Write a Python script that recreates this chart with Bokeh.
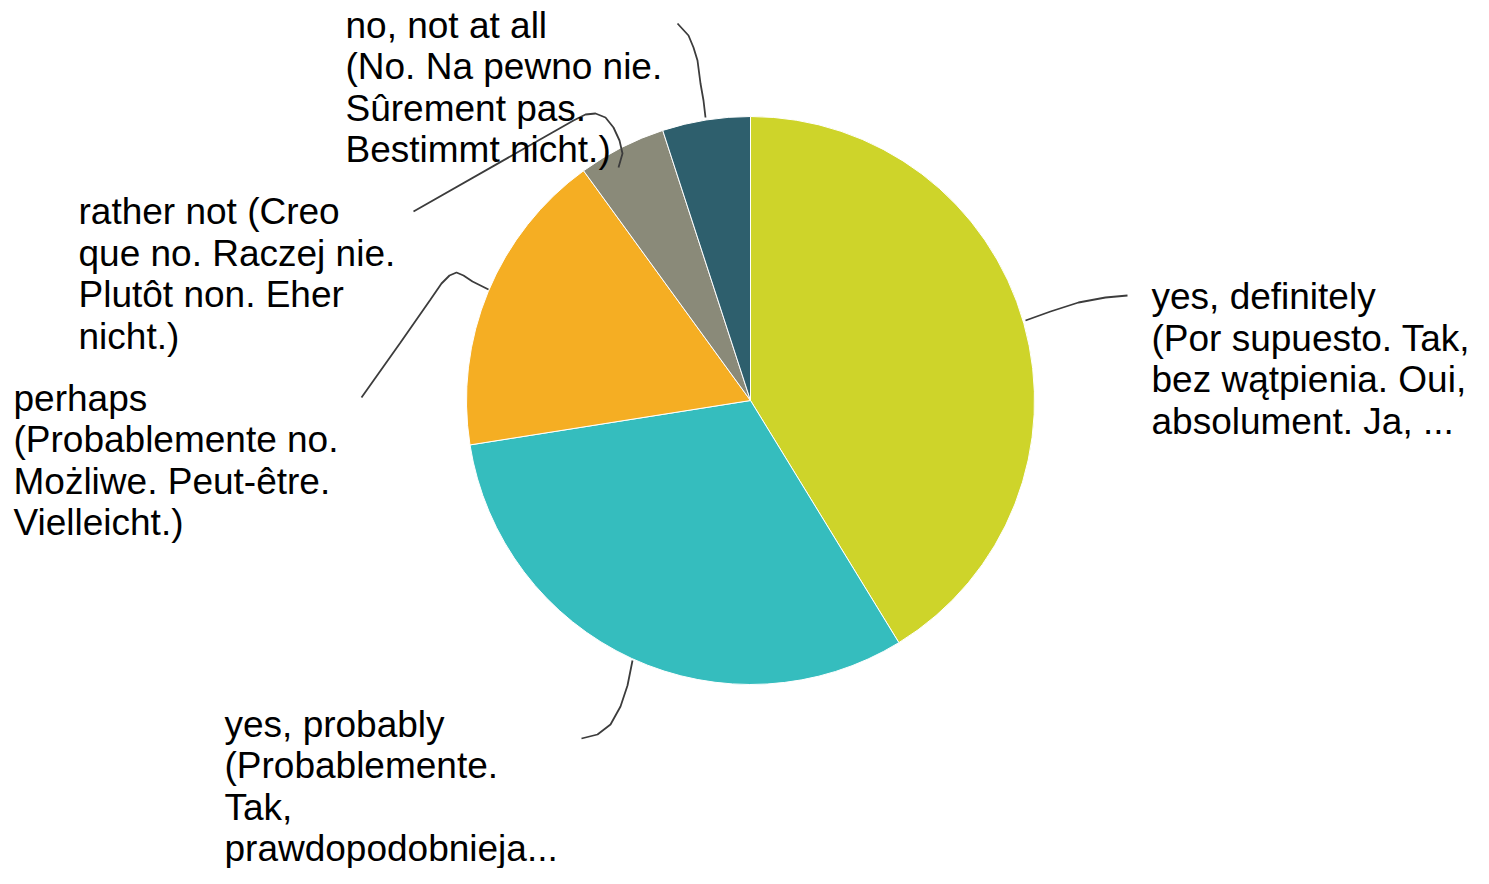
import math
from bokeh.plotting import figure
from bokeh.models import Range1d, ColumnDataSource
from bokeh.core.properties import value
from bokeh.embed import file_html
from bokeh.resources import INLINE

# ---- data ----
categories = [
    "yes, definitely\n(Por supuesto. Tak,\nbez wątpienia. Oui,\nabsolument. Ja, ...",
    "yes, probably\n(Probablemente.\nTak,\nprawdopodobnieja...",
    "perhaps\n(Probablemente no.\nMożliwe. Peut-être.\nVielleicht.)",
    "rather not (Creo\nque no. Raczej nie.\nPlutôt non. Eher\nnicht.)",
    "no, not at all\n(No. Na pewno nie.\nSûrement pas.\nBestimmt nicht.)",
]
counts = [33, 25, 14, 4, 4]
colors = ["#CED42A", "#35BDBE", "#F5AE23", "#8A8A79", "#2E5F6D"]

# ---- layout (screen pixels; y measured from window top) ----
PAGE_H = 884
W, H = 1473, 868
CX, CY, R = 750, 400, 284
label_pos = [(1151, 358.5), (224, 786), (13, 460), (78, 273.5), (345, 87)]
leaders = [
    [(1025, 320), (1050, 311), (1078, 302), (1105, 297), (1127, 295)],
    [(632, 660), (627, 685), (620, 706), (610, 724), (597, 734), (581, 738)],
    [(488, 289), (472, 281), (463, 275), (456, 272), (449, 275), (441, 283),
     (430, 299), (400, 342), (361, 397)],
    [(618, 167), (622, 153), (619, 140), (613, 127), (605, 117), (595, 113),
     (585, 114), (573, 120), (413, 211)],
    [(705, 117), (703, 100), (700, 83), (697, 60), (693, 47), (688, 35), (677, 23)],
]


def fy(sy):
    return PAGE_H - sy


p = figure(width=W, height=H, x_range=Range1d(0, W),
           y_range=Range1d(PAGE_H - H, PAGE_H),
           output_backend="svg", toolbar_location=None, min_border=0)
p.axis.visible = False
p.grid.visible = False
p.outline_line_color = None
p.background_fill_color = "white"
p.border_fill_color = "white"

total = sum(counts)
starts, ends = [], []
cum = 0.0
for c in counts:
    a0 = cum / total * 2 * math.pi
    cum += c
    a1 = cum / total * 2 * math.pi
    starts.append(math.pi / 2 - a0)
    ends.append(math.pi / 2 - a1)

src = ColumnDataSource(dict(start=starts, end=ends, color=colors))
p.wedge(x=CX, y=fy(CY), radius=R, start_angle="start", end_angle="end",
        direction="clock", fill_color="color", line_color="white",
        line_width=1, source=src)

p.multi_line(xs=[[pt[0] for pt in l] for l in leaders],
             ys=[[fy(pt[1]) for pt in l] for l in leaders],
             line_color="#3c3c3c", line_width=1.8)

p.text(x=[lp[0] for lp in label_pos], y=[fy(lp[1]) for lp in label_pos],
       text=categories, text_font=value("Liberation Sans"),
       text_font_size="37px", text_baseline="middle", text_align="left",
       text_line_height=1.016, text_color="#000000")

open("out.html", "w").write(file_html(p, INLINE))
